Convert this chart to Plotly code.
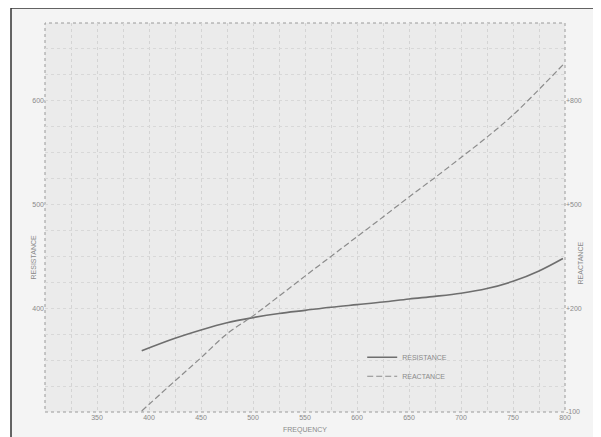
import plotly.graph_objects as go

# ---- data ----
freq = [393, 425, 450, 475, 500, 525, 550, 575, 600, 625, 650, 675, 700, 725, 750, 775, 798]
resistance = [359, 371, 379, 386, 391, 395, 398, 401, 403.5, 406, 409, 411.5, 414.5, 419, 426, 436, 448]
reactance = [-97, -10, 57, 126, 178, 235, 293, 350, 407, 464, 522, 578, 636, 695, 759, 833, 904]

x_grid = list(range(300, 801, 25))
x_labels = ["350", "400", "450", "500", "550", "600", "650", "700", "750", "800"]
left_grid = list(range(300, 676, 25))
left_labels = ["400", "500", "600"]
right_ticks = [-100, 200, 500, 800]
right_labels = ["-100", "+200", "+500", "+800"]

label_color = "#8a8a8a"
font_family = "Liberation Sans, Arial, sans-serif"

x_text = [str(v) if str(v) in x_labels else "" for v in x_grid]
left_text = [str(v) if str(v) in left_labels else "" for v in left_grid]

fig = go.Figure()
fig.add_trace(go.Scatter(
    x=freq, y=resistance, name="RESISTANCE", mode="lines",
    line=dict(color="#6e6e6e", width=1.6, shape="spline"),
))
fig.add_trace(go.Scatter(
    x=freq, y=reactance, name="REACTANCE", mode="lines", yaxis="y2",
    line=dict(color="#8c8c8c", width=1.2, dash="6px,3px", shape="spline"),
))

# the page adds an 8px body margin, so the figure is 8px smaller and shifted
fig.update_layout(
    width=593, height=429,
    margin=dict(l=37, r=36, t=15, b=25),
    paper_bgcolor="white",
    plot_bgcolor="rgba(0,0,0,0)",
    font=dict(family=font_family, size=7, color=label_color),
    showlegend=True,
    legend=dict(
        x=0.61, y=0.178, xanchor="left", yanchor="top",
        bgcolor="rgba(0,0,0,0)", itemwidth=30,
        font=dict(size=7, color=label_color),
        tracegroupgap=0,
    ),
    xaxis=dict(
        range=[300, 800], tickmode="array", tickvals=x_grid, ticktext=x_text,
        showgrid=True, gridcolor="#d4d4d4", griddash="dot", gridwidth=1,
        zeroline=False, showline=False, ticks="", ticklen=0, automargin=False,
        tickfont=dict(size=7, color=label_color),
        title=dict(text="FREQUENCY", font=dict(size=7, color=label_color), standoff=7),
    ),
    yaxis=dict(
        range=[300, 675], tickmode="array", tickvals=left_grid, ticktext=left_text,
        showgrid=True, gridcolor="#d8d8d8", griddash="dot", gridwidth=1,
        zeroline=False, showline=False, ticks="", automargin=False,
        tickfont=dict(size=7, color=label_color),
    ),
    yaxis2=dict(
        range=[-100, 1025], overlaying="y", side="right",
        tickmode="array", tickvals=right_ticks, ticktext=right_labels,
        showgrid=False, zeroline=False, showline=False, ticks="", automargin=False,
        tickfont=dict(size=7, color=label_color),
    ),
)

# frame and stippled-looking backgrounds (positions in screen pixels)
def px_x(p):
    return (p - 45) / 520.0

def px_y(p):
    return (412 - p) / 389.0

fig.add_shape(type="rect", xref="paper", yref="paper",
              x0=px_x(11), x1=px_x(597), y0=px_y(440), y1=px_y(8),
              fillcolor="#f4f4f4", line=dict(color="#333333", width=1.5), layer="below")
fig.add_shape(type="rect", xref="paper", yref="paper",
              x0=0, x1=1, y0=0, y1=1,
              fillcolor="#ebebeb", line=dict(color="#9a9a9a", width=1, dash="dot"), layer="below")

fig.add_annotation(text="RESISTANCE", xref="paper", yref="paper",
                   x=px_x(28), y=px_y(257), textangle=-90, showarrow=False,
                   font=dict(size=7, color=label_color))
fig.add_annotation(text="REACTANCE", xref="paper", yref="paper",
                   x=px_x(585), y=px_y(263), textangle=-90, showarrow=False,
                   font=dict(size=7, color=label_color))

fig.write_html("out.html")
